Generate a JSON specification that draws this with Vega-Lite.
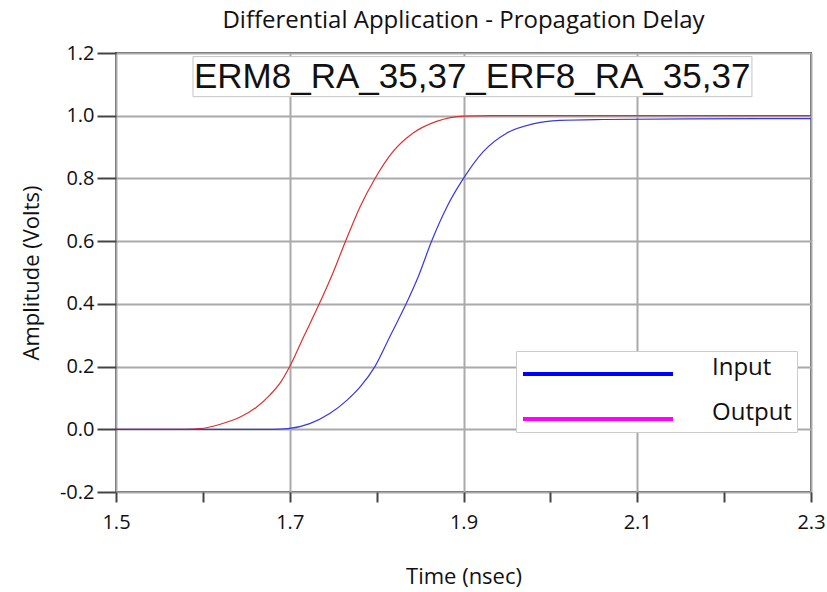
{
  "$schema": "https://vega.github.io/schema/vega-lite/v6.json",
  "width": 695,
  "height": 439,
  "autosize": {"type": "none"},
  "padding": {"left": 116, "top": 53, "right": 16, "bottom": 100},
  "background": "white",
  "config": {
    "font": "Open Sans",
    "view": {"stroke": "#555555", "strokeWidth": 2},
    "title": {"font": "Open Sans", "fontSize": 24, "fontWeight": "normal", "color": "#111111", "offset": 10}
  },
  "title": {"text": "Differential Application - Propagation Delay", "anchor": "middle"},
  "datasets": {
    "curves": [
      {"t": 1.5, "v": 0, "series": "Output"},
      {"t": 1.58, "v": 0, "series": "Output"},
      {"t": 1.597, "v": 0.002, "series": "Output"},
      {"t": 1.62, "v": 0.016, "series": "Output"},
      {"t": 1.643, "v": 0.039, "series": "Output"},
      {"t": 1.662, "v": 0.071, "series": "Output"},
      {"t": 1.677, "v": 0.109, "series": "Output"},
      {"t": 1.689, "v": 0.148, "series": "Output"},
      {"t": 1.7, "v": 0.2, "series": "Output"},
      {"t": 1.716, "v": 0.295, "series": "Output"},
      {"t": 1.734, "v": 0.4, "series": "Output"},
      {"t": 1.748, "v": 0.487, "series": "Output"},
      {"t": 1.764, "v": 0.598, "series": "Output"},
      {"t": 1.781, "v": 0.71, "series": "Output"},
      {"t": 1.798, "v": 0.799, "series": "Output"},
      {"t": 1.819, "v": 0.886, "series": "Output"},
      {"t": 1.842, "v": 0.945, "series": "Output"},
      {"t": 1.869, "v": 0.982, "series": "Output"},
      {"t": 1.9, "v": 0.999, "series": "Output"},
      {"t": 1.93, "v": 1.0, "series": "Output"},
      {"t": 2.3, "v": 1.0, "series": "Output"},
      {"t": 1.5, "v": 0, "series": "Input"},
      {"t": 1.68, "v": 0, "series": "Input"},
      {"t": 1.698, "v": 0.002, "series": "Input"},
      {"t": 1.723, "v": 0.018, "series": "Input"},
      {"t": 1.746, "v": 0.05, "series": "Input"},
      {"t": 1.766, "v": 0.093, "series": "Input"},
      {"t": 1.781, "v": 0.135, "series": "Input"},
      {"t": 1.798, "v": 0.2, "series": "Input"},
      {"t": 1.816, "v": 0.3, "series": "Input"},
      {"t": 1.834, "v": 0.4, "series": "Input"},
      {"t": 1.848, "v": 0.487, "series": "Input"},
      {"t": 1.863, "v": 0.598, "series": "Input"},
      {"t": 1.881, "v": 0.71, "series": "Input"},
      {"t": 1.9, "v": 0.8, "series": "Input"},
      {"t": 1.923, "v": 0.886, "series": "Input"},
      {"t": 1.95, "v": 0.945, "series": "Input"},
      {"t": 1.98, "v": 0.974, "series": "Input"},
      {"t": 2.011, "v": 0.985, "series": "Input"},
      {"t": 2.06, "v": 0.988, "series": "Input"},
      {"t": 2.16, "v": 0.99, "series": "Input"},
      {"t": 2.3, "v": 0.991, "series": "Input"}
    ],
    "keys": [{"series": "Input"}, {"series": "Output"}],
    "note": [{"label": "ERM8_RA_35,37_ERF8_RA_35,37"}]
  },
  "layer": [
    {
      "data": {"name": "curves"},
      "mark": {"type": "line", "interpolate": "monotone", "strokeWidth": 1.2, "clip": true},
      "encoding": {
        "x": {
          "field": "t", "type": "quantitative",
          "scale": {"domain": [1.5, 2.3], "nice": false, "zero": false},
          "axis": {
            "title": "Time (nsec)",
            "values": [1.5, 1.6, 1.7, 1.8, 1.9, 2.0, 2.1, 2.2, 2.3],
            "labelExpr": "abs(round(datum.value*10))%2==1 ? format(datum.value,'.1f') : ''",
            "gridOpacity": {"condition": {"test": "abs(round(datum.value*10))%2==1", "value": 1}, "value": 0},
            "gridColor": "#aaaaaa", "gridWidth": 2,
            "domain": false,
            "tickColor": "#444444", "tickWidth": 2, "tickSize": 10,
            "labelFont": "Open Sans", "labelFontSize": 20, "labelColor": "#111111", "labelPadding": 10,
            "labelFlush": false, "labelOverlap": false,
            "titleFont": "Open Sans", "titleFontSize": 22, "titleFontWeight": "normal", "titleColor": "#111111", "titlePadding": 34
          }
        },
        "y": {
          "field": "v", "type": "quantitative",
          "scale": {"domain": [-0.2, 1.2], "nice": false, "zero": false},
          "axis": {
            "title": "Amplitude (Volts)",
            "values": [-0.2, -0.1, 0, 0.1, 0.2, 0.3, 0.4, 0.5, 0.6, 0.7, 0.8, 0.9, 1.0, 1.1, 1.2],
            "labelExpr": "abs(round(datum.value*10))%2==0 ? (datum.value < 0 ? '-' : '') + format(abs(datum.value),'.1f') : ''",
            "gridOpacity": {"condition": {"test": "abs(round(datum.value*10))%2==0", "value": 1}, "value": 0},
            "tickSize": {"condition": {"test": "abs(round(datum.value*10))%2==0", "value": 19}, "value": 9},
            "gridColor": "#aaaaaa", "gridWidth": 2,
            "domain": false,
            "tickColor": "#444444", "tickWidth": 2,
            "labelFont": "Open Sans", "labelFontSize": 20, "labelColor": "#111111", "labelPadding": 3,
            "labelFlush": false, "labelOverlap": false,
            "titleFont": "Open Sans", "titleFontSize": 22, "titleFontWeight": "normal", "titleColor": "#111111", "titlePadding": 16
          }
        },
        "stroke": {
          "field": "series", "type": "nominal",
          "scale": {"domain": ["Output", "Input"], "range": ["#dc3030", "#3838e0"]},
          "legend": null
        }
      }
    },
    {
      "data": {"name": "keys"},
      "mark": {"type": "line"},
      "encoding": {
        "x": {"datum": 1.5, "type": "quantitative"},
        "y": {"datum": 0, "type": "quantitative"},
        "color": {
          "field": "series", "type": "nominal",
          "scale": {"domain": ["Input", "Output"], "range": ["#0000ff", "#ff00ff"]},
          "legend": {
            "orient": "none", "legendX": 400, "legendY": 298,
            "title": null,
            "symbolType": "M-1,0.6H14", "symbolSize": 400, "symbolStrokeWidth": 4,
            "labelFont": "Open Sans", "labelFontSize": 24, "labelColor": "#111111",
            "labelOffset": 167, "rowPadding": 19, "padding": 5,
            "strokeColor": "#cccccc", "fillColor": "white"
          }
        }
      }
    },
    {
      "data": {"name": "note"},
      "mark": {"type": "rect", "fill": "white", "stroke": "#c4c4c4", "strokeWidth": 1},
      "encoding": {
        "x": {"datum": 1.5886, "type": "quantitative"},
        "x2": {"datum": 2.232},
        "y": {"datum": 1.1885, "type": "quantitative"},
        "y2": {"datum": 1.0607}
      }
    },
    {
      "data": {"name": "note"},
      "mark": {"type": "text", "font": "Liberation Sans", "fontSize": 35, "align": "center", "baseline": "middle", "color": "#111111"},
      "encoding": {
        "x": {"datum": 1.91, "type": "quantitative"},
        "y": {"datum": 1.125, "type": "quantitative"},
        "text": {"field": "label"}
      }
    }
  ]
}
